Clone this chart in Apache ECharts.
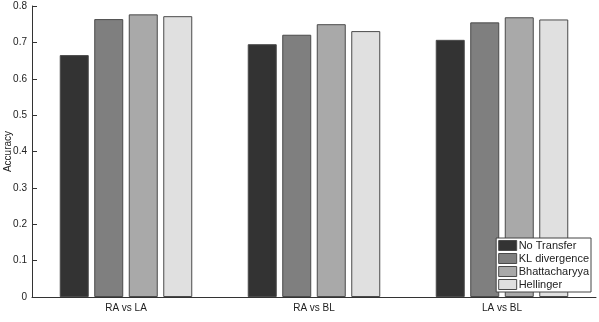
<!DOCTYPE html>
<html>
<head>
<meta charset="utf-8">
<script src="https://cdn.jsdelivr.net/npm/echarts@6/dist/echarts.min.js"></script>
<style>
  html, body { margin: 0; padding: 0; background: #fff; }
</style>
</head>
<body>
<div id="chart" style="width:599px;height:322px"></div>
<script>
// 数据
var categories = ['RA vs LA', 'RA vs BL', 'LA vs BL'];
var noTransfer = [0.665, 0.695, 0.707];
var klDivergence = [0.764, 0.721, 0.755];
var bhattacharyya = [0.777, 0.750, 0.769];
var hellinger = [0.772, 0.731, 0.763];
var seriesNames = ['No Transfer', 'KL divergence', 'Bhattacharyya', 'Hellinger'];
var seriesColors = ['#333333', '#7f7f7f', '#a9a9a9', '#e0e0e0'];

var myChart = echarts.init(document.getElementById('chart'));

var allData = [noTransfer, klDivergence, bhattacharyya, hellinger];
var series = allData.map(function (d, i) {
  return {
    name: seriesNames[i],
    type: 'bar',
    data: d,
    barWidth: 29,
    barGap: '19%',
    itemStyle: { color: seriesColors[i], borderColor: '#4a4a4a', borderWidth: 1 }
  };
});

var options = {
  backgroundColor: '#fff',
  animation: false,
  textStyle: { fontFamily: 'Liberation Sans, Arial, sans-serif' },
  grid: { left: 32, right: 3, top: 6, bottom: 25, containLabel: false, outerBoundsMode: 'none' },
  legend: {
    orient: 'vertical',
    right: 8,
    bottom: 30,
    backgroundColor: '#fff',
    borderColor: '#444',
    borderWidth: 1,
    borderRadius: 0,
    padding: [2, 2, 2, 2],
    itemGap: 2,
    itemWidth: 18,
    itemHeight: 10,
    icon: 'rect',
    itemStyle: { borderColor: '#4a4a4a', borderWidth: 1 },
    textStyle: { fontSize: 11, color: '#222', padding: [0, 0, 0, -3] },
    data: seriesNames
  },
  xAxis: {
    type: 'category',
    data: categories,
    axisLine: { lineStyle: { color: '#333', width: 1 } },
    axisTick: { inside: true, length: 5, alignWithLabel: true, lineStyle: { color: '#333' } },
    axisLabel: { color: '#222', fontSize: 10, margin: 6 }
  },
  yAxis: {
    type: 'value',
    min: 0,
    max: 0.8,
    interval: 0.1,
    name: 'Accuracy',
    nameLocation: 'middle',
    nameGap: 19,
    nameMoveOverlap: false,
    nameTextStyle: { fontSize: 10, color: '#222' },
    axisLine: { show: true, lineStyle: { color: '#333', width: 1 } },
    axisTick: { show: true, inside: true, length: 5, lineStyle: { color: '#333' } },
    axisLabel: { color: '#222', fontSize: 10, margin: 5 },
    splitLine: { show: false }
  },
  series: series
};

myChart.setOption(options, true);
</script>
</body>
</html>
